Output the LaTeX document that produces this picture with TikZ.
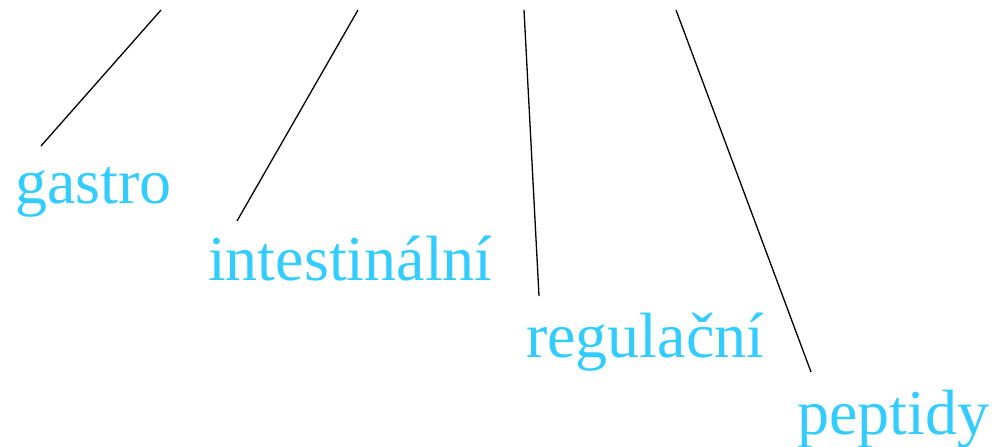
\documentclass[tikz,border=0pt]{standalone}
\usepackage{fontspec}
\setmainfont{Liberation Serif}
\usetikzlibrary{positioning}
\definecolor{popisek}{HTML}{33CCFF}
\tikzset{
	stitek/.style={anchor=base west, inner sep=0pt, text=popisek, font=\fontsize{64}{70}\selectfont},
	spojnice/.style={draw=black, line width=1.3pt}
}

\begin{document}
\begin{tikzpicture}[x=1pt, y=-1pt]
				\useasboundingbox (0,0) rectangle (996,447);
				
				% Popisky
				\node[stitek] (gastro) at (15, 203) {gastro};
				\node[stitek] (intest) at (208, 280) {intestinální};
				\node[stitek] (regul) at (526, 357) {regulační};
				\node[stitek] (peptid) at (797, 434) {peptidy};
				
				% Konce spojnic
				\coordinate (gastroT) at (161, 10);
				\coordinate (gastroB) at (41, 146);
				\coordinate (intestT) at (358, 10);
				\coordinate (intestB) at (237, 221);
				\coordinate (regulT) at (524, 10);
				\coordinate (regulB) at (539, 296);
				\coordinate (peptidT) at (676, 10);
				\coordinate (peptidB) at (811, 372);
				
				% Spojnice
				\draw[spojnice] (gastroT) -- (gastroB);
				\draw[spojnice] (intestT) -- (intestB);
				\draw[spojnice] (regulT) -- (regulB);
				\draw[spojnice] (peptidT) -- (peptidB);
			\end{tikzpicture}
\end{document}
